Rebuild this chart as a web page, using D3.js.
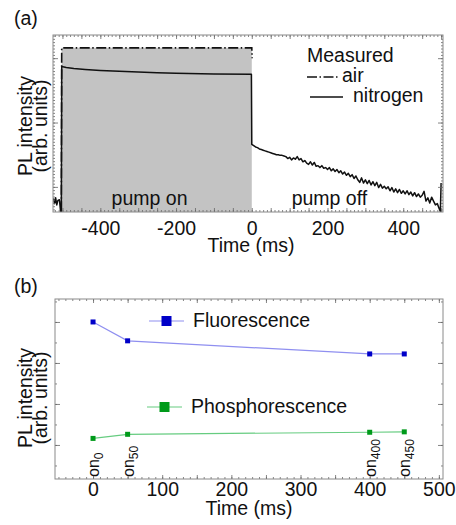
<!DOCTYPE html>
<html>
<head>
<meta charset="utf-8">
<script src="https://cdn.jsdelivr.net/npm/d3@7"></script>
<style>
  html, body { margin: 0; padding: 0; background: #fff; }
  svg { display: block; font-family: Arial, "Liberation Sans", sans-serif; }
</style>
</head>
<body>
<svg id="chart" width="456" height="525"></svg>
<script>
// ── Data: panel (a) ───────────────────────────────────────────────────────────
const aTicks = [-400, -200, 0, 200, 400];
const aYTicks = [1, 2, 3];
// air (dash-dot), [time ms, PL]
const air = [[-503, 0.62], [-502, 3.16], [0, 3.16], [1, 3.0]];
// nitrogen (solid), [time ms, PL]
const nitrogen = [
  [-524, 0.82], [-521, 0.74], [-518, 0.83], [-515, 0.72], [-512, 0.79], [-508, 0.80],
  [-505, 0.62], [-503, 0.62], [-502, 2.87], [-490, 2.855], [-470, 2.84], [-440, 2.825],
  [-400, 2.81], [-350, 2.795], [-300, 2.785], [-250, 2.775], [-200, 2.765], [-100, 2.755], [-1, 2.75],
  [0, 1.66], [5, 1.64], [10, 1.62], [15, 1.61], [20, 1.59], [25, 1.58], [30, 1.57],
  [35, 1.56], [40, 1.55], [45, 1.54], [50, 1.53], [55, 1.52], [60, 1.51], [65, 1.50],
  [70, 1.50], [75, 1.49], [80, 1.49], [85, 1.48], [90, 1.47], [95, 1.44], [100, 1.46],
  [105, 1.42], [110, 1.45], [115, 1.43], [120, 1.47], [125, 1.42], [130, 1.44],
  [135, 1.39], [140, 1.41], [145, 1.37], [150, 1.35], [155, 1.39], [160, 1.34],
  [165, 1.38], [170, 1.32], [175, 1.33], [180, 1.30], [185, 1.33], [190, 1.29],
  [195, 1.30], [200, 1.27], [205, 1.30], [210, 1.25], [215, 1.28], [220, 1.24],
  [225, 1.27], [230, 1.22], [235, 1.25], [240, 1.20], [245, 1.23], [250, 1.18],
  [255, 1.21], [260, 1.16], [265, 1.19], [270, 1.13], [275, 1.17], [280, 1.11],
  [285, 1.07], [290, 1.14], [295, 1.06], [300, 1.11], [305, 1.05], [310, 1.10],
  [315, 1.03], [320, 1.08], [325, 1.02], [330, 1.07], [335, 0.99], [340, 1.04],
  [345, 0.98], [350, 1.01], [355, 0.97], [360, 1.00], [365, 0.94], [370, 0.99],
  [375, 0.92], [380, 0.97], [385, 0.91], [390, 0.96], [395, 0.90], [400, 0.94],
  [405, 0.89], [410, 0.94], [415, 0.88], [420, 0.92], [425, 0.86], [430, 0.91],
  [435, 0.85], [440, 0.89], [445, 0.84], [450, 0.87], [455, 0.93], [460, 0.78],
  [465, 0.83], [470, 0.75], [475, 0.84], [480, 0.78], [485, 0.72], [490, 0.74],
  [495, 0.66], [498, 0.62], [500, 1.06]
];

// ── Data: panel (b) ───────────────────────────────────────────────────────────
const bTicks = [0, 100, 200, 300, 400, 500];
const bYTicks = [0, 1, 2, 3];
const bTimes = [0, 50, 400, 450];
const bLabels = ['0', '50', '400', '450'];
const fluorescence = [3.0, 2.54, 2.22, 2.22];
const phosphorescence = [0.16, 0.26, 0.31, 0.32];

// ── Setup ─────────────────────────────────────────────────────────────────────
const svg = d3.select('#chart');
const FS = 19.5;
const FRAME = '#8a8a8a', TICK = '#666';

function frame(g, x, y, xMinor, yMinor, xMajorMinor, yMajor) {
  const [x0, x1] = x.range(), [y0, y1] = y.range();
  const addAxis = (axis, tx, ty) => {
    const a = g.append('g').attr('transform', `translate(${tx},${ty})`).call(axis);
    a.select('.domain').remove();
    a.selectAll('line').attr('stroke', TICK).attr('stroke-width', 0.8);
  };
  addAxis(d3.axisBottom(x).tickValues(xMinor).tickSize(-2).tickFormat(''), 0, y0);
  addAxis(d3.axisTop(x).tickValues(xMinor).tickSize(-2).tickFormat(''), 0, y1);
  addAxis(d3.axisBottom(x).tickValues(xMajorMinor).tickSize(-4).tickFormat(''), 0, y0);
  addAxis(d3.axisTop(x).tickValues(xMajorMinor).tickSize(-4).tickFormat(''), 0, y1);
  addAxis(d3.axisLeft(y).tickValues(yMinor).tickSize(-2).tickFormat(''), x0, 0);
  addAxis(d3.axisRight(y).tickValues(yMinor).tickSize(-2).tickFormat(''), x1, 0);
  addAxis(d3.axisLeft(y).tickValues(yMajor).tickSize(-5).tickFormat(''), x0, 0);
  addAxis(d3.axisRight(y).tickValues(yMajor).tickSize(-5).tickFormat(''), x1, 0);
  g.append('rect').attr('x', x0).attr('y', y1).attr('width', x1 - x0).attr('height', y0 - y1)
    .attr('fill', 'none').attr('stroke', FRAME).attr('stroke-width', 1);
}

function xLabels(g, x, ticks, y0, pad) {
  const a = g.append('g').attr('transform', `translate(0,${y0})`)
    .call(d3.axisBottom(x).tickValues(ticks).tickSize(0).tickPadding(pad).tickFormat(d => String(d)));
  a.select('.domain').remove();
  a.selectAll('text').attr('font-size', FS).attr('fill', '#111')
    .attr('font-family', 'Arial, "Liberation Sans", sans-serif');
}

function yTitle(g, cy) {
  g.append('text').attr('transform', `translate(32,${cy}) rotate(-90)`)
    .attr('text-anchor', 'middle').attr('font-size', FS).attr('fill', '#111').text('PL intensity');
  g.append('text').attr('transform', `translate(47,${cy}) rotate(-90)`)
    .attr('text-anchor', 'middle').attr('font-size', FS).attr('fill', '#111').text('(arb. units)');
}

// ── Panel (a) ─────────────────────────────────────────────────────────────────
const ga = svg.append('g');
const xa = d3.scaleLinear().domain([-525, 505]).range([53, 443]);
const ya = d3.scaleLinear().domain([0.61, 3.36]).range([212, 35]);

ga.append('clipPath').attr('id', 'clipA').append('rect')
  .attr('x', 53).attr('y', 35).attr('width', 390).attr('height', 177);

const pa = ga.append('g').attr('clip-path', 'url(#clipA)');
const onAir = air.filter(d => d[0] >= -502 && d[0] <= 0);
pa.append('path').datum(onAir)
  .attr('d', d3.area().x(d => xa(d[0])).y0(ya(0.61)).y1(d => ya(d[1])))
  .attr('fill', '#c3c3c3');

pa.append('path').datum(nitrogen)
  .attr('d', d3.line().x(d => xa(d[0])).y(d => ya(d[1])))
  .attr('fill', 'none').attr('stroke', '#111').attr('stroke-width', 1.5).attr('stroke-linejoin', 'round');

pa.append('path').datum(air)
  .attr('d', d3.line().x(d => xa(d[0])).y(d => ya(d[1])))
  .attr('fill', 'none').attr('stroke', '#111').attr('stroke-width', 1.6)
  .attr('stroke-dasharray', '10,2.5,1.5,2.5');

frame(ga, xa, ya, d3.range(-520, 505, 10), d3.range(0.65, 3.36, 0.05), d3.range(-500, 505, 50), aYTicks);
xLabels(ga, xa, aTicks, 212, 9);

ga.append('text').attr('x', 251).attr('y', 252).attr('text-anchor', 'middle')
  .attr('font-size', FS).attr('fill', '#111').text('Time (ms)');
yTitle(ga, 126);
ga.append('text').attr('x', 14).attr('y', 25).attr('font-size', FS).attr('fill', '#111').text('(a)');

ga.append('text').attr('x', xa(-270)).attr('y', 205).attr('text-anchor', 'middle')
  .attr('font-size', FS).attr('fill', '#111').text('pump on');
ga.append('text').attr('x', xa(205)).attr('y', 205).attr('text-anchor', 'middle')
  .attr('font-size', FS).attr('fill', '#111').text('pump off');

// legend (a)
ga.append('text').attr('x', 307).attr('y', 62).attr('font-size', FS).attr('fill', '#111').text('Measured');
ga.append('line').attr('x1', 307).attr('x2', 340).attr('y1', 77).attr('y2', 77)
  .attr('stroke', '#111').attr('stroke-width', 1.5).attr('stroke-dasharray', '10,2.5,1.5,2.5');
ga.append('text').attr('x', 342).attr('y', 82).attr('font-size', FS).attr('fill', '#111').text('air');
ga.append('line').attr('x1', 310).attr('x2', 343).attr('y1', 97).attr('y2', 97)
  .attr('stroke', '#111').attr('stroke-width', 1.5);
ga.append('text').attr('x', 353).attr('y', 102).attr('font-size', FS).attr('fill', '#111').text('nitrogen');

// ── Panel (b) ─────────────────────────────────────────────────────────────────
const gb = svg.append('g');
const xb = d3.scaleLinear().domain([-55, 506]).range([55, 443]);
const yb = d3.scaleLinear().domain([-0.83, 3.56]).range([479, 299]);

frame(gb, xb, yb, d3.range(-50, 501, 10), d3.range(-0.5, 3.56, 0.5), d3.range(0, 501, 50), bYTicks);
xLabels(gb, xb, bTicks, 479, 3);

const series = [
  { name: 'Fluorescence', vals: fluorescence, line: '#8f8ff0', mark: '#0000c8', ly: 321, lx: 149, tx: 193 },
  { name: 'Phosphorescence', vals: phosphorescence, line: '#66cc80', mark: '#009a1a', ly: 407, lx: 147, tx: 191 }
];
series.forEach(s => {
  const pts = bTimes.map((t, i) => [t, s.vals[i]]);
  gb.append('path').datum(pts)
    .attr('d', d3.line().x(d => xb(d[0])).y(d => yb(d[1])))
    .attr('fill', 'none').attr('stroke', s.line).attr('stroke-width', 1.2);
  gb.selectAll(null).data(pts).join('rect')
    .attr('x', d => xb(d[0]) - 2.5).attr('y', d => yb(d[1]) - 2.5)
    .attr('width', 5).attr('height', 5).attr('fill', s.mark);
  // legend
  gb.append('line').attr('x1', s.lx).attr('x2', s.lx + 35).attr('y1', s.ly).attr('y2', s.ly)
    .attr('stroke', s.line).attr('stroke-width', 1.2);
  gb.append('rect').attr('x', s.lx + 17.5 - 5).attr('y', s.ly - 5).attr('width', 10).attr('height', 10)
    .attr('fill', s.mark);
  gb.append('text').attr('x', s.tx).attr('y', s.ly + 6).attr('font-size', FS).attr('fill', '#111').text(s.name);
});

// "on_t" labels
bTimes.forEach((t, i) => {
  const tx = gb.append('text').attr('transform', `translate(${xb(t) + 6},477) rotate(-90)`)
    .attr('font-size', 16).attr('fill', '#111');
  tx.append('tspan').text('on');
  tx.append('tspan').attr('font-size', 12).attr('dy', 4).text(bLabels[i]);
});

gb.append('text').attr('x', 249).attr('y', 515).attr('text-anchor', 'middle')
  .attr('font-size', FS).attr('fill', '#111').text('Time (ms)');
yTitle(gb, 398);
gb.append('text').attr('x', 14).attr('y', 293).attr('font-size', FS).attr('fill', '#111').text('(b)');
</script>
</body>
</html>
